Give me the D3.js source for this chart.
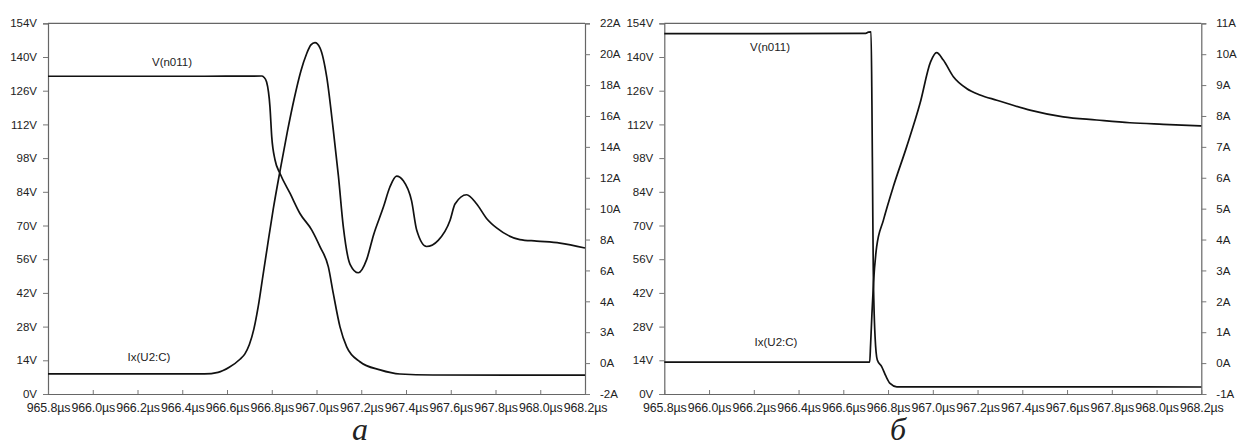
<!DOCTYPE html>
<html>
<head>
<meta charset="utf-8">
<script src="https://cdn.jsdelivr.net/npm/d3@7"></script>
<style>
  body { margin: 0; background: #fff; }
  text { font-family: "Liberation Sans", Arial, sans-serif; fill: #222; }
  .caption { font-family: "Liberation Serif", "Times New Roman", serif; font-style: italic; }
</style>
</head>
<body>
<div id="chart"></div>
<script>
var svgWidth = 1244;
var svgHeight = 441;

// shared axis ticks
var timeTicks = [965.8, 966.0, 966.2, 966.4, 966.6, 966.8, 967.0, 967.2, 967.4, 967.6, 967.8, 968.0, 968.2];
var voltTicks = [0, 14, 28, 42, 56, 70, 84, 98, 112, 126, 140, 154];

// panel a: right axis (current)
var ampTicksA = [-2, 0, 2, 4, 6, 8, 10, 12, 14, 16, 18, 20, 22];
var ampLabelsA = ["-2A", "0A", "3A", "4A", "6A", "8A", "10A", "12A", "14A", "16A", "18A", "20A", "22A"];

// panel b: right axis (current)
var ampTicksB = [-1, 0, 1, 2, 3, 4, 5, 6, 7, 8, 9, 10, 11];
var ampLabelsB = ampTicksB.map(d => d + "A");

// panel a: V(n011) [time us, volts]
var voltA = [
    [965.8, 132.0], [966.5, 132.0], [966.755, 132.1], [966.765, 131.6], [966.777, 129.6],
    [966.792, 119.3], [966.800, 106.8], [966.815, 97.1], [966.837, 91.6], [966.882, 83.3],
    [966.926, 75.0], [966.979, 68.1], [967.016, 61.1], [967.053, 52.8], [967.075, 41.8],
    [967.105, 27.9], [967.135, 19.6], [967.194, 13.4], [967.284, 10.0], [967.373, 8.3],
    [967.52, 7.9], [968.2, 7.8]
];

// panel a: Ix(U2:C) [time us, amps]
var curA = [
    [965.8, -0.70], [966.5, -0.70], [966.56, -0.60], [966.61, -0.27], [966.658, 0.25],
    [966.68, 0.60], [966.70, 1.20], [966.72, 2.20], [966.74, 3.70], [966.76, 5.60],
    [966.78, 7.50], [966.807, 10.00], [966.837, 12.45], [966.87, 15.00], [966.90, 17.10],
    [966.93, 18.90], [966.955, 20.00], [966.975, 20.60], [966.993, 20.75],
    [967.016, 20.40], [967.046, 18.50], [967.075, 15.10], [967.098, 12.10], [967.120, 8.80],
    [967.150, 6.40], [967.187, 5.85], [967.224, 6.70], [967.255, 8.30], [967.299, 10.10],
    [967.328, 11.40], [967.358, 12.10], [967.388, 11.80], [967.425, 10.50], [967.448, 8.60],
    [967.492, 7.55], [967.544, 7.95], [967.597, 9.25], [967.619, 10.30], [967.671, 10.90],
    [967.716, 10.30], [967.761, 9.35], [967.805, 8.75], [967.909, 8.00], [967.984, 7.90],
    [968.088, 7.77], [968.2, 7.45]
];

// panel b: V(n011)
var voltB = [
    [965.8, 149.7], [966.70, 149.8], [966.712, 150.3], [966.724, 150.4], [966.728, 120.0],
    [966.731, 85.0], [966.734, 51.5], [966.742, 23.8], [966.752, 14.1], [966.772, 11.3],
    [966.79, 7.5], [966.809, 4.4], [966.839, 3.0], [967.0, 3.0], [968.2, 2.9]
];

// panel b: Ix(U2:C)
var curB = [
    [965.8, 0.03], [966.718, 0.03], [966.722, 0.6], [966.728, 1.6], [966.735, 2.6],
    [966.749, 3.76], [966.779, 4.62], [966.823, 5.70], [966.883, 7.00], [966.943, 8.41],
    [966.99, 9.75], [967.017, 10.05], [967.047, 9.81], [967.092, 9.27], [967.151, 8.89],
    [967.211, 8.68], [967.286, 8.51], [967.434, 8.19], [967.583, 7.97], [967.732, 7.87],
    [967.881, 7.78], [968.03, 7.73], [968.2, 7.68]
];

var panels = [
    { left: 48, volt: voltA, cur: curA, ampDomain: [-2, 22], ampTicks: ampTicksA, ampLabels: ampLabelsA,
      vLab: [172, 66], iLab: [149, 361], caption: "a", capX: 360 },
    { left: 664.3, volt: voltB, cur: curB, ampDomain: [-1, 11], ampTicks: ampTicksB, ampLabels: ampLabelsB,
      vLab: [770, 51], iLab: [776, 346], caption: "б", capX: 898 }
];

var plotW = 537;
var plotTop = 23.3;
var plotBottom = 394;

var svg = d3.select("#chart")
    .append("svg")
    .attr("width", svgWidth)
    .attr("height", svgHeight);

svg.append("rect").attr("width", svgWidth).attr("height", svgHeight).attr("fill", "#fff");

panels.forEach(function (p) {
    var x = d3.scaleLinear().domain([965.8, 968.2]).range([p.left, p.left + plotW]);
    var yV = d3.scaleLinear().domain([0, 154]).range([plotBottom, plotTop]);
    var yA = d3.scaleLinear().domain(p.ampDomain).range([plotBottom, plotTop]);

    var g = svg.append("g");

    // top frame line
    g.append("line")
        .attr("x1", p.left).attr("x2", p.left + plotW)
        .attr("y1", plotTop).attr("y2", plotTop)
        .attr("stroke", "#666").attr("stroke-width", 1.2);

    var leftAxis = g.append("g")
        .attr("transform", `translate(${p.left},0)`)
        .call(d3.axisLeft(yV).tickValues(voltTicks).tickSize(5).tickPadding(6).tickFormat(d => d + "V"));

    var rightAxis = g.append("g")
        .attr("transform", `translate(${p.left + plotW},0)`)
        .call(d3.axisRight(yA).tickValues(p.ampTicks).tickSize(5).tickPadding(10)
            .tickFormat((d, i) => p.ampLabels[i]));

    var bottomAxis = g.append("g")
        .attr("transform", `translate(0,${plotBottom})`)
        .call(d3.axisBottom(x).tickValues(timeTicks).tickSizeInner(-4).tickSizeOuter(0).tickPadding(9)
            .tickFormat(d => d3.format(".1f")(d) + "µs"));

    [leftAxis, rightAxis, bottomAxis].forEach(function (a) {
        a.select(".domain").attr("stroke", "#666").attr("stroke-width", 1.2);
        a.selectAll(".tick line").attr("stroke", "#777");
        a.selectAll("text").attr("fill", "#222").style("font-size", "11.5px")
            .style("font-family", '"Liberation Sans", Arial, sans-serif');
    });
    bottomAxis.selectAll("text").style("font-size", "12.4px").style("letter-spacing", "-0.1px");

    var voltLine = d3.line().x(d => x(d[0])).y(d => yV(d[1])).curve(d3.curveMonotoneX);
    var curLine = d3.line().x(d => x(d[0])).y(d => yA(d[1])).curve(d3.curveMonotoneX);

    g.append("path").datum(p.volt)
        .attr("d", voltLine)
        .attr("fill", "none").attr("stroke", "#111").attr("stroke-width", 1.7);

    g.append("path").datum(p.cur)
        .attr("d", curLine)
        .attr("fill", "none").attr("stroke", "#111").attr("stroke-width", 1.7);

    g.append("text")
        .attr("x", p.vLab[0]).attr("y", p.vLab[1])
        .attr("text-anchor", "middle")
        .style("font-size", "11.5px")
        .text("V(n011)");

    g.append("text")
        .attr("x", p.iLab[0]).attr("y", p.iLab[1])
        .attr("text-anchor", "middle")
        .style("font-size", "11.5px")
        .text("Ix(U2:C)");

    g.append("text")
        .attr("class", "caption")
        .attr("x", p.capX).attr("y", 440)
        .attr("text-anchor", "middle")
        .style("font-size", "32px")
        .text(p.caption);
});
</script>
</body>
</html>
